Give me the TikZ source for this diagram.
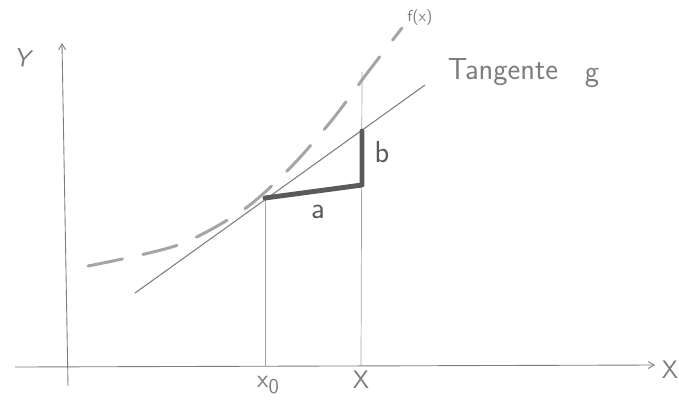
\documentclass[tikz,border=0pt]{standalone}
\usepackage{tikz}
\usetikzlibrary{arrows,positioning,calc}
\definecolor{pencilgray}{RGB}{125,125,125}
\definecolor{pencildark}{RGB}{90,90,90}
\definecolor{pencillight}{RGB}{165,165,165}

\begin{document}
\begin{tikzpicture}[x=0.02cm, y=-0.02cm, >=angle 60, font=\sffamily]
    \useasboundingbox (0,0) rectangle (679,400);
    % axes
    \coordinate (xstart) at (15,367);
    \coordinate (xend) at (655,365);
    \coordinate (ystart) at (68,386);
    \coordinate (yend) at (62,43);
    \draw [->, pencilgray, line width=0.5pt] (xstart) -- (xend);
    \draw [->, pencilgray, line width=0.5pt] (ystart) -- (yend);
    \node [text=pencilgray, font=\sffamily\Large, rotate=-10] (ylabel) at (24,58) {Y};
    \node [text=pencilgray, font=\sffamily\Large] (xlabel) at (670,370) {X};

    % function f and tangent g
    \draw [pencillight, line width=1.7pt, line cap=round, dash pattern=on 20pt off 12pt]
        plot [smooth] coordinates {(88,266) (178,245) (243,210) (290,168) (332,120) (368,72) (402,28)};
    \node [text=pencilgray, font=\sffamily\small] (flabel) at (420,18) {f(x)};
    \coordinate (tanlow) at (135,293);
    \coordinate (tanhigh) at (425,85);
    \draw [pencilgray, line width=0.6pt] (tanlow) -- (tanhigh);
    \node [text=pencilgray, font=\sffamily\LARGE] (tanlabel) at (503,72) {Tangente};
    \node [text=pencilgray, font=\sffamily\LARGE] (glabel) at (592,78) {g};

    % x0 and x with their drop lines
    \coordinate (touch) at (265,198);
    \coordinate (corner) at (362,185);
    \coordinate (ontan) at (362,131);
    \coordinate (xtop) at (362,72);
    \coordinate (xzerofoot) at (265,366);
    \coordinate (xfoot) at (361,365);
    \draw [pencilgray!70, line width=0.4pt] (touch) -- (xzerofoot);
    \draw [pencilgray!70, line width=0.4pt] (xtop) -- (xfoot);
    \node [text=pencilgray, font=\sffamily\Large] (xzerolabel) at (268,385) {x\raisebox{-0.6ex}{\large 0}};
    \node [text=pencilgray, font=\sffamily\Large] (xposlabel) at (361,380) {X};

    % slope triangle
    \draw [pencildark, line width=2.8pt, line cap=round, line join=round] (touch) -- (corner) -- (ontan);
    \node [text=pencildark, font=\sffamily\LARGE] (alabel) at (318,212) {a};
    \node [text=pencildark, font=\sffamily\LARGE] (blabel) at (382,152) {b};
\end{tikzpicture}
\end{document}
